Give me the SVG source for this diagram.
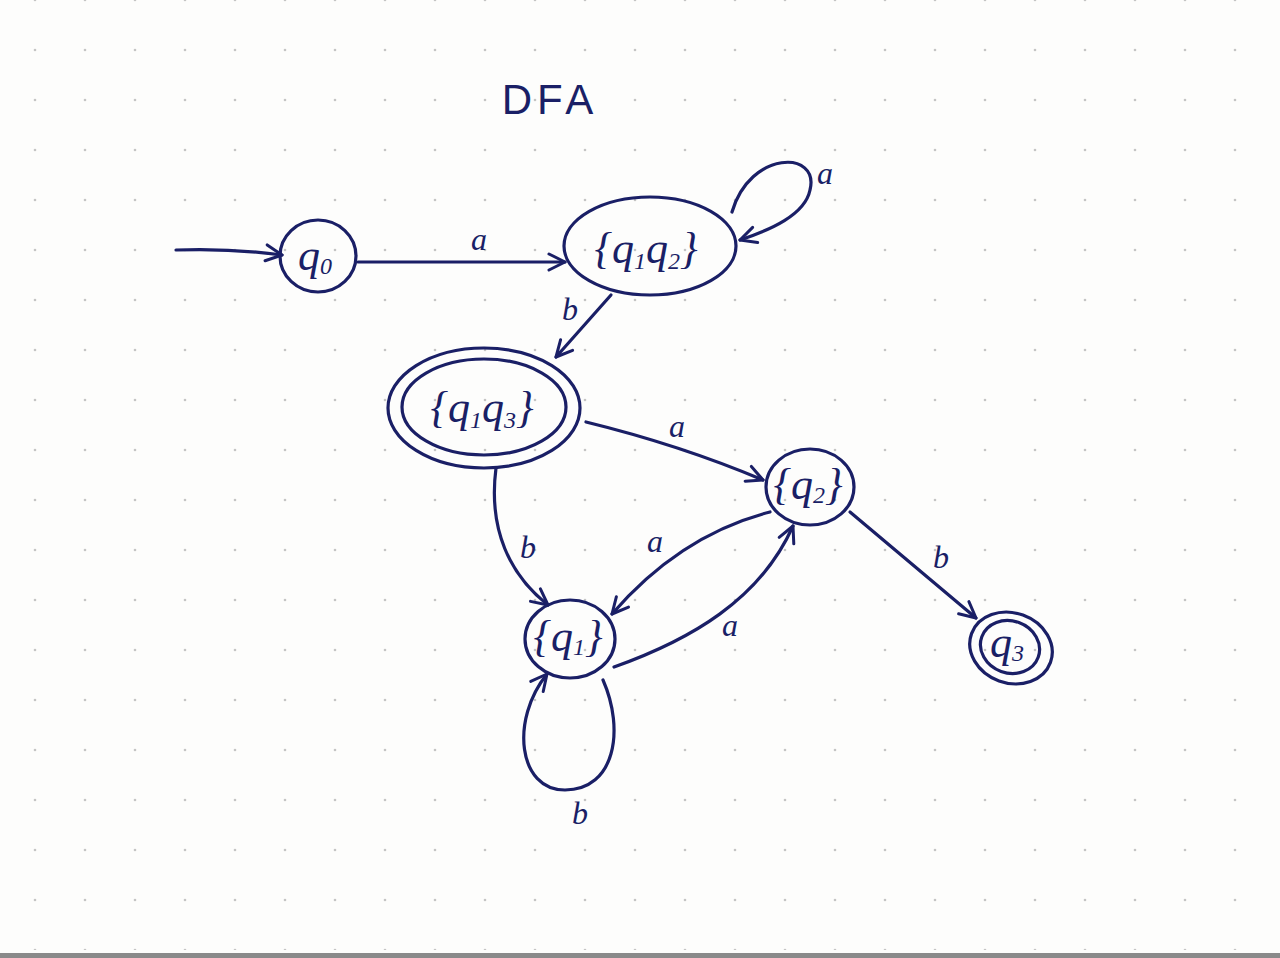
<svg xmlns="http://www.w3.org/2000/svg" width="1280" height="958" viewBox="0 0 1280 958">
<defs>
<pattern id="dots" x="10" y="25" width="50" height="50" patternUnits="userSpaceOnUse">
<circle cx="25" cy="25" r="1.3" fill="#c4c4c4"/>
</pattern>
<marker id="arr" viewBox="0 0 20 20" refX="18" refY="10" markerWidth="20" markerHeight="20" markerUnits="userSpaceOnUse" orient="auto">
<path d="M2,2 L18,10 L2,18" fill="none" stroke="#1a1f66" stroke-width="3" stroke-linecap="round" stroke-linejoin="round"/>
</marker>
<style>
.st{fill:none;stroke:#1a1f66;stroke-width:3.2;stroke-linecap:round}
.lbl{font-family:"Liberation Serif",serif;font-style:italic;fill:#1a1f66;font-size:32px;text-anchor:middle}
.nl{font-family:"Liberation Serif",serif;font-style:italic;fill:#1a1f66;font-size:44px;text-anchor:middle}
.sub{font-size:24px}
.ttl{font-family:"Liberation Sans",sans-serif;fill:#1a1f66;font-size:42px;text-anchor:middle;letter-spacing:5px}
</style>
</defs>
<rect width="1280" height="958" fill="#fdfdfc"/>
<rect width="1280" height="950" fill="url(#dots)"/>
<rect x="0" y="953" width="1280" height="5" fill="#8a8a8a"/>

<text class="ttl" x="550" y="114">DFA</text>

<g id="connectors">
<path class="st" marker-end="url(#arr)" d="M176,250 Q230,248 282,255"/>
<path class="st" marker-end="url(#arr)" d="M358,262 L565,262"/>
<path class="st" marker-end="url(#arr)" d="M732,212 C750,150 820,150 810,190 C805,215 770,230 740,240"/>
<path class="st" marker-end="url(#arr)" d="M611,295 L556,357"/>
<path class="st" marker-end="url(#arr)" d="M586,422 Q680,445 763,480"/>
<path class="st" marker-end="url(#arr)" d="M496,468 C488,530 510,575 548,605"/>
<path class="st" marker-end="url(#arr)" d="M770,512 C700,530 650,570 612,614"/>
<path class="st" marker-end="url(#arr)" d="M614,667 C690,640 760,600 793,526"/>
<path class="st" marker-end="url(#arr)" d="M603,680 C625,730 615,790 565,790 C518,790 510,720 547,674"/>
<path class="st" marker-end="url(#arr)" d="M850,512 L976,618"/>
<text class="lbl" x="479" y="250">a</text>
<text class="lbl" x="825" y="184">a</text>
<text class="lbl" x="570" y="320">b</text>
<text class="lbl" x="677" y="437">a</text>
<text class="lbl" x="528" y="558">b</text>
<text class="lbl" x="655" y="552">a</text>
<text class="lbl" x="730" y="636">a</text>
<text class="lbl" x="580" y="824">b</text>
<text class="lbl" x="941" y="568">b</text>
</g>

<g id="q0">
<ellipse class="st" cx="318" cy="256" rx="38" ry="36"/>
<text class="nl" x="315" y="270">q<tspan class="sub" dy="4">0</tspan></text>
</g>

<g id="q1q2">
<ellipse class="st" cx="650" cy="246" rx="86" ry="49"/>
<text class="nl" x="646" y="263">{q<tspan class="sub" dy="6">1</tspan><tspan dy="-6">q</tspan><tspan class="sub" dy="6">2</tspan><tspan dy="-6">}</tspan></text>
</g>

<g id="q1q3">
<ellipse class="st" cx="484" cy="408" rx="96" ry="60"/>
<ellipse class="st" cx="484" cy="407" rx="82" ry="48"/>
<text class="nl" x="482" y="422">{q<tspan class="sub" dy="6">1</tspan><tspan dy="-6">q</tspan><tspan class="sub" dy="6">3</tspan><tspan dy="-6">}</tspan></text>
</g>

<g id="q2">
<ellipse class="st" cx="810" cy="487" rx="44" ry="38"/>
<text class="nl" x="808" y="499" font-size="36">{q<tspan class="sub" dy="4">2</tspan><tspan dy="-4">}</tspan></text>
</g>

<g id="q1">
<ellipse class="st" cx="570" cy="639" rx="45" ry="39"/>
<text class="nl" x="568" y="651" font-size="36">{q<tspan class="sub" dy="4">1</tspan><tspan dy="-4">}</tspan></text>
</g>

<g id="q3">
<ellipse class="st" cx="1011" cy="648" rx="42" ry="35" transform="rotate(20 1011 648)"/>
<ellipse class="st" cx="1010" cy="647" rx="30" ry="26" transform="rotate(20 1010 647)"/>
<text class="nl" x="1007" y="657" font-size="30">q<tspan class="sub" font-size="19" dy="4">3</tspan></text>
</g>
</svg>
